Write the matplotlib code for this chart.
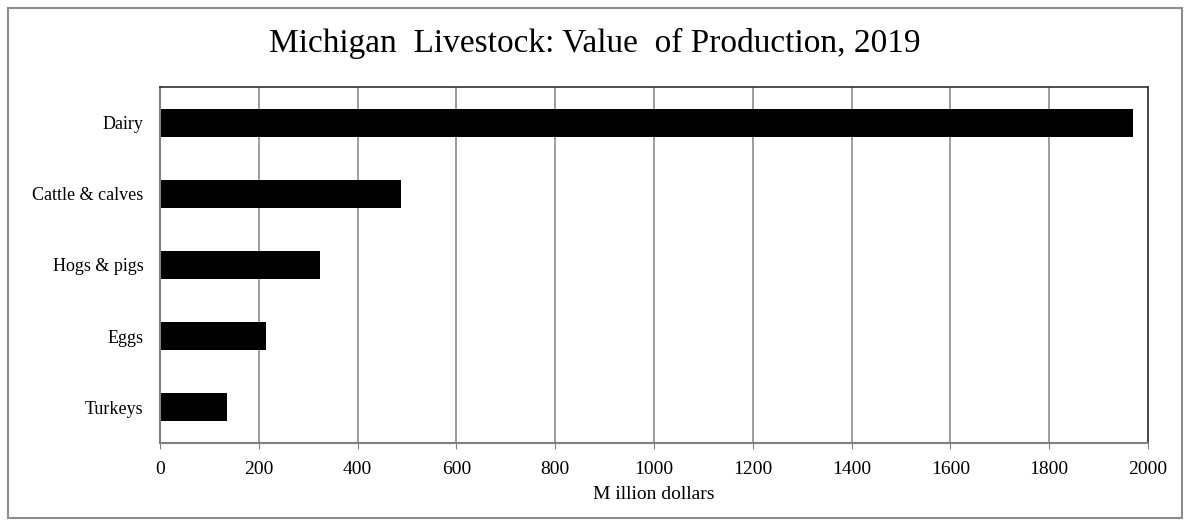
import matplotlib.pyplot as plt
from matplotlib.patches import Rectangle

categories = ["Dairy", "Cattle & calves", "Hogs & pigs", "Eggs", "Turkeys"]
values = [1970, 488, 324, 215, 136]
xticks = [0, 200, 400, 600, 800, 1000, 1200, 1400, 1600, 1800, 2000]

plt.rcParams['font.family'] = ['Liberation Serif', 'DejaVu Serif']

fig = plt.figure(figsize=(11.9, 5.26), dpi=100)
ax = fig.add_axes([0.1345, 0.158, 0.8302, 0.6765])

# outer frame of the chart
fig.patches.append(Rectangle((0.007, 0.015), 0.986, 0.97, transform=fig.transFigure,
                             fill=False, edgecolor='#8c8c8c', linewidth=1.5))

ypos = list(range(len(categories)))
ax.barh(ypos, values, height=0.39, color='black')
ax.set_ylim(len(categories) - 0.5, -0.5)
ax.set_yticks(ypos)
ax.set_yticklabels(categories, fontsize=13)
ax.tick_params(axis='y', length=0, pad=12)

ax.set_xlim(0, 2000)
ax.set_xticks(xticks)
ax.set_xticklabels([str(t) for t in xticks], fontsize=14)
ax.tick_params(axis='x', length=4, color='#808080', pad=9)
ax.xaxis.grid(True, color='#8c8c8c', linewidth=1.2)
ax.set_axisbelow(True)
ax.set_xlabel("M illion dollars", fontsize=14, labelpad=6)

for s in ['left', 'bottom']:
    ax.spines[s].set_color('#808080')
    ax.spines[s].set_linewidth(1.5)
for s in ['top', 'right']:
    ax.spines[s].set_color('#303030')
    ax.spines[s].set_linewidth(1.2)

fig.text(0.5, 0.918, "Michigan  Livestock: Value  of Production, 2019",
         ha='center', va='center', fontsize=24)

fig.savefig("out.png", dpi=100)
